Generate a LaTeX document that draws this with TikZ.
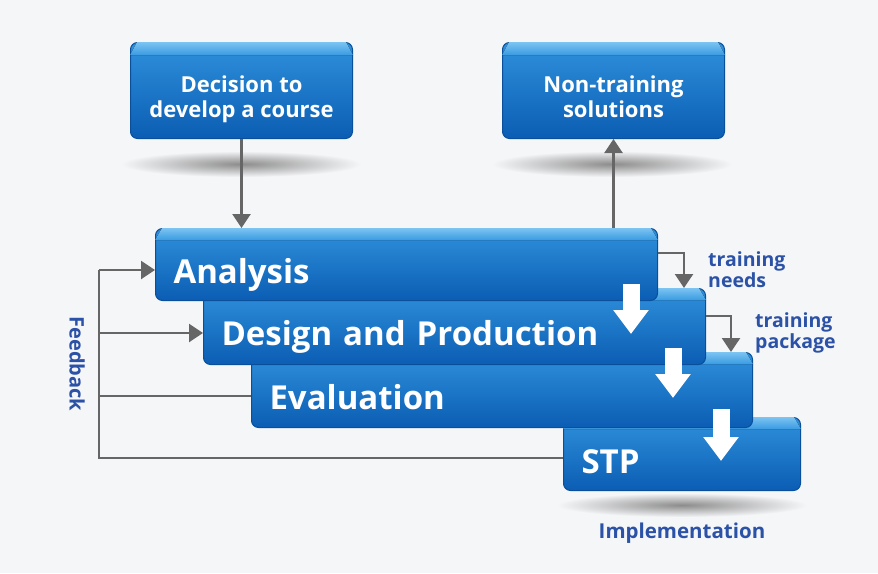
\documentclass[tikz,border=0pt]{standalone}
\usepackage{fontspec}
\setmainfont{Open Sans}
\usetikzlibrary{arrows.meta,positioning}

\definecolor{boxtop}{HTML}{2F91DC}
\definecolor{boxbot}{HTML}{0B5DB3}
\definecolor{boxline}{HTML}{0A4F9C}
\definecolor{beveltop}{HTML}{7CC4F2}
\definecolor{bevelbot}{HTML}{3A9BE2}
\definecolor{labelblue}{HTML}{2B52A6}
\definecolor{arrowgray}{HTML}{666666}
\definecolor{paper}{HTML}{F5F6F8}

\tikzset{
  stage/.style={anchor=north west, rounded corners=7pt, top color=boxtop, bottom color=boxbot,
    draw=boxline, line width=1pt, text=white, font=\fontsize{33}{36}\selectfont\bfseries,
    align=left, inner xsep=18pt, inner ysep=0pt, text height=38pt, text depth=0pt},
  topbox/.style={anchor=north west, rounded corners=7pt, top color=boxtop, bottom color=boxbot,
    draw=boxline, line width=1pt, text=white, font=\fontsize{22}{25}\selectfont\bfseries,
    align=center, minimum width=222pt, minimum height=96pt, text height=54pt, text depth=0pt},
  bevel/.style={top color=beveltop, bottom color=bevelbot},
  flow/.style={draw=arrowgray, line width=2.5pt, -{Triangle[width=18pt,length=14pt]}},
  fback/.style={draw=arrowgray, line width=2.5pt},
  note/.style={text=labelblue, font=\fontsize{19.5}{19}\selectfont\bfseries, align=left, inner sep=0pt},
  down/.style={draw=white, line width=17pt, -{Triangle[width=34pt,length=24pt]}},
}

\begin{document}
\begin{tikzpicture}[x=1pt,y=-1pt]
  \fill[paper] (0,0) rectangle (878,573);
  \useasboundingbox (0,0) rectangle (878,573);

  % shadows under the boxes
  \shade[inner color=black!45, outer color=paper] (241,164) ellipse [x radius=120, y radius=13];
  \shade[inner color=black!45, outer color=paper] (612,164) ellipse [x radius=120, y radius=13];
  \shade[inner color=black!45, outer color=paper] (682,505) ellipse [x radius=125, y radius=12];

  % top boxes
  \node[topbox] (dec) at (130,42) {Decision to\\develop a course};
  \fill[bevel] ([xshift=7pt]dec.north west) -- ([xshift=-7pt]dec.north east)
    -- ([yshift=-13pt]dec.north east) -- ([yshift=-13pt]dec.north west) -- cycle;
  \node[topbox] (non) at (502,42) {Non-training\\solutions};
  \fill[bevel] ([xshift=7pt]non.north west) -- ([xshift=-7pt]non.north east)
    -- ([yshift=-13pt]non.north east) -- ([yshift=-13pt]non.north west) -- cycle;

  % the stages, back to front
  \node[stage, minimum width=237pt, minimum height=73pt, text width=201pt] (stp) at (563,417) {STP};
  \fill[bevel] ([xshift=7pt]stp.north west) -- ([xshift=-7pt]stp.north east)
    -- ([yshift=-12pt]stp.north east) -- ([yshift=-12pt]stp.north west) -- cycle;
  \node[stage, minimum width=501pt, minimum height=75pt, text width=465pt] (eva) at (251,352) {Evaluation};
  \fill[bevel] ([xshift=7pt]eva.north west) -- ([xshift=-7pt]eva.north east)
    -- ([yshift=-12pt]eva.north east) -- ([yshift=-12pt]eva.north west) -- cycle;
  \node[stage, minimum width=502pt, minimum height=76pt, text width=466pt] (des) at (203,288) {Design and Production};
  \fill[bevel] ([xshift=7pt]des.north west) -- ([xshift=-7pt]des.north east)
    -- ([yshift=-12pt]des.north east) -- ([yshift=-12pt]des.north west) -- cycle;
  \node[stage, minimum width=502pt, minimum height=72pt, text width=466pt] (ana) at (155,228) {Analysis};
  \fill[bevel] ([xshift=7pt]ana.north west) -- ([xshift=-7pt]ana.north east)
    -- ([yshift=-12pt]ana.north east) -- ([yshift=-12pt]ana.north west) -- cycle;

  % white arrows from stage to stage
  \draw[down] ([xshift=-27pt,yshift=17pt]ana.south east) -- ([xshift=-27pt,yshift=-33pt]ana.south east);
  \draw[down] ([xshift=-33pt,yshift=17pt]des.south east) -- ([xshift=-33pt,yshift=-33pt]des.south east);
  \draw[down] ([xshift=-32pt,yshift=19pt]eva.south east) -- ([xshift=-32pt,yshift=-33pt]eva.south east);

  % gray connectors
  \draw[flow] (dec.south) -- (dec.south |- ana.north);
  \draw[flow] (non.south |- ana.north) -- (non.south);
  \draw[flow] ([yshift=-25pt]ana.north east) -| ([xshift=-22pt]des.north east);
  \draw[flow] ([yshift=-28pt]des.north east) -| ([xshift=-22pt]eva.north east);

  % feedback loop
  \coordinate (fb) at (99,270);
  \draw[fback] (fb) |- ([yshift=-4pt]stp.west);
  \draw[flow] (fb) -- (fb -| ana.west);
  \draw[flow] (fb |- 0,333) -- (des.west |- 0,333);
  \draw[fback] (fb |- 0,396) -- (eva.west |- 0,396);

  \node[note, anchor=base west] (needs) at (708,287) {training\\needs};
  \node[note, anchor=base west] (package) at (755,348) {training\\package};
  \node[note, rotate=-90, font=\fontsize{20}{20}\selectfont\bfseries] (feedback) at (77,364) {Feedback};
  \node[note, font=\fontsize{20.5}{20}\selectfont\bfseries] (impl) at (682,533) {Implementation};

  % \draw[help lines, step=50] (0,0) grid (878,573);
\end{tikzpicture}
\end{document}
